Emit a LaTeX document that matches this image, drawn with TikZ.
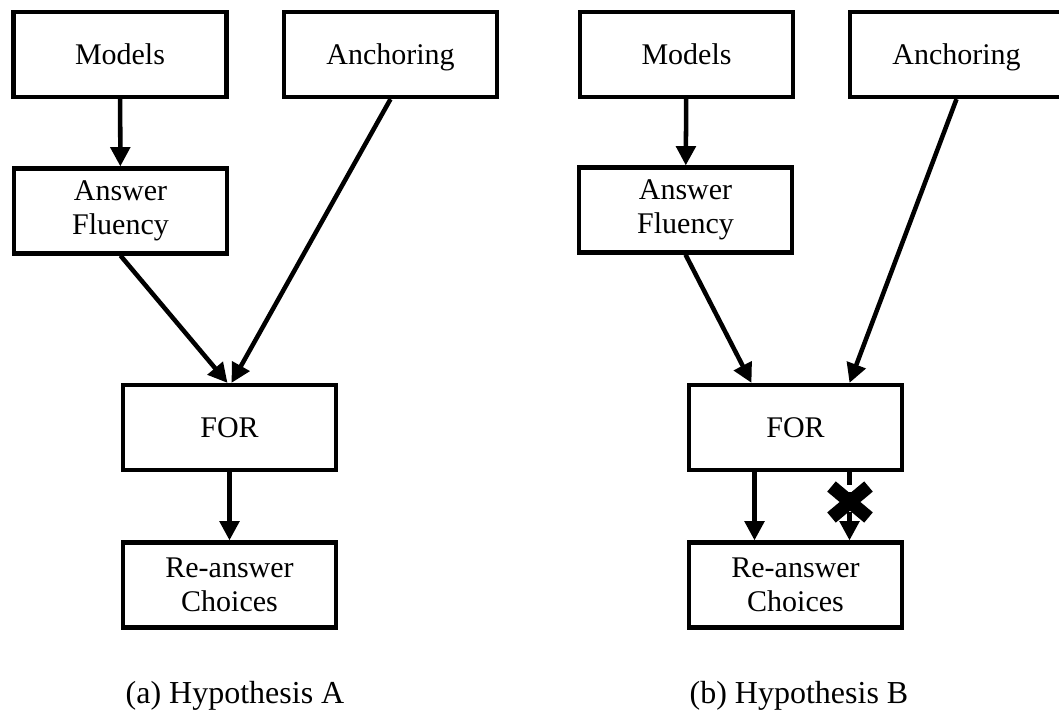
\documentclass[tikz,border=0pt]{standalone}
\usepackage{fontspec}
\setmainfont{Liberation Serif}
\usetikzlibrary{arrows.meta}

\begin{document}
\begin{tikzpicture}[x=0.75pt,y=-0.75pt,
  box/.style={draw,line width=3.4pt,minimum width=160pt,minimum height=63.5pt,
    inner sep=0pt,align=center,font=\fontsize{22.5}{25.5}\selectfont},
  oneline/.style={text height=20pt,text depth=5pt},
  arr/.style={line width=3.4pt,-{Triangle[length=14.5pt,width=14.5pt]}},
  caption/.style={anchor=base,font=\fontsize{24}{28}\selectfont}]
  \useasboundingbox (0,0) rectangle (1059,710);
  % (a) Hypothesis A
  \node[box,oneline] (modelsA) at (120,54.5) {Models};
  \node[box,oneline] (anchorA) at (390.5,54.5) {Anchoring};
  \node[box] (fluencyA) at (120.5,211) {Answer\\Fluency};
  \node[box,oneline] (forA) at (229.5,427.5) {FOR};
  \node[box] (choicesA) at (229.5,585) {Re-answer\\Choices};
  \draw[arr] (modelsA) -- (fluencyA);
  \draw[arr] (fluencyA.south) -- ([xshift=-1.5pt]forA.north);
  \draw[arr] (anchorA.south) -- ([xshift=1.5pt]forA.north);
  \draw[arr] (forA) -- (choicesA);
  \node[caption] (capA) at (235,703) {(a) Hypothesis A};
  % (b) Hypothesis B
  \node[box,oneline] (modelsB) at (686.5,54.5) {Models};
  \node[box,oneline] (anchorB) at (956.5,54.5) {Anchoring};
  \node[box] (fluencyB) at (685.5,210) {Answer\\Fluency};
  \node[box,oneline] (forB) at (795.5,427.5) {FOR};
  \node[box] (choicesB) at (795.5,585) {Re-answer\\Choices};
  \draw[arr] (modelsB) -- (fluencyB);
  \draw[arr] (fluencyB.south) -- ([xshift=-33pt]forB.north);
  \draw[arr] (anchorB.south) -- ([xshift=40.5pt]forB.north);
  \draw[arr] ([xshift=-30.75pt]forB.south) -- ([xshift=-30.75pt]choicesB.north);
  \draw[arr,dash pattern=on 10pt off 5pt] ([xshift=40.5pt]forB.south) -- ([xshift=40.5pt]choicesB.north);
  % Cut mark on the dashed link
  \coordinate (cutB) at (850,502);
  \draw[line width=10pt,shift={(cutB)}] (-18.5,-15.5) -- (18.5,15.5) (-18.5,15.5) -- (18.5,-15.5);
  \node[caption] (capB) at (799,703) {(b) Hypothesis B};
\end{tikzpicture}
\end{document}
